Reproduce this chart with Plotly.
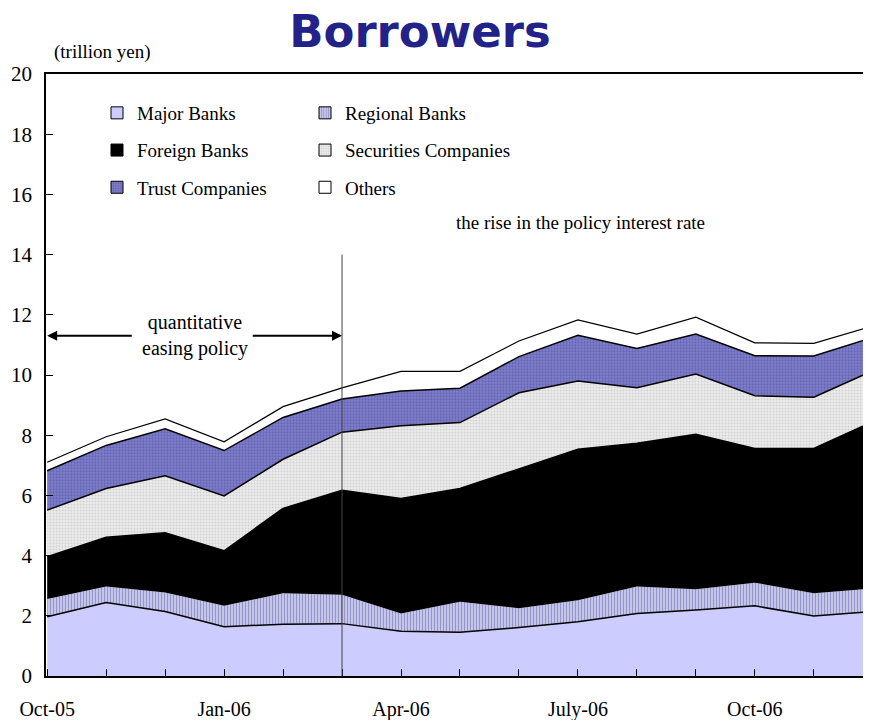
import plotly.graph_objects as go

months = ["Oct-05", "Nov-05", "Dec-05", "Jan-06", "Feb-06", "Mar-06", "Apr-06",
          "May-06", "Jun-06", "Jul-06", "Aug-06", "Sep-06", "Oct-06", "Nov-06", "Dec-06"]
tick_labels = ["Oct-05", "", "", "Jan-06", "", "", "Apr-06", "", "", "July-06", "", "", "Oct-06", "", ""]

major_banks = [1.97, 2.44, 2.14, 1.64, 1.72, 1.74, 1.49, 1.45, 1.61, 1.80, 2.08, 2.19, 2.33, 1.99, 2.14]
regional_banks = [0.59, 0.53, 0.63, 0.69, 1.03, 0.96, 0.59, 1.02, 0.64, 0.72, 0.89, 0.69, 0.77, 0.76, 0.77]
foreign_banks = [1.40, 1.64, 1.99, 1.83, 2.82, 3.47, 3.82, 3.76, 4.63, 5.01, 4.76, 5.15, 4.46, 4.81, 5.54]
securities_cos = [1.55, 1.62, 1.89, 1.82, 1.63, 1.93, 2.41, 2.19, 2.53, 2.27, 1.85, 2.00, 1.75, 1.70, 1.69]
trust_cos = [1.31, 1.43, 1.56, 1.51, 1.39, 1.10, 1.16, 1.14, 1.20, 1.52, 1.30, 1.33, 1.33, 1.37, 1.11]
others = [0.28, 0.29, 0.33, 0.29, 0.36, 0.37, 0.65, 0.56, 0.52, 0.51, 0.48, 0.56, 0.43, 0.42, 0.38]

x = list(range(len(months)))

SERIF = "Liberation Serif"

styles = [
    ("Major Banks", major_banks, "#CCCCFF", None, 1.5, "black", "legend"),
    ("Regional Banks", regional_banks, "#FFFFFF",
     dict(shape="|", fgcolor="#3A3A9C", bgcolor="#F0F0FF", size=3, solidity=0.66), 0, "black", "legend2"),
    ("Foreign Banks", foreign_banks, "#000000", None, 1.5, "black", "legend"),
    ("Securities Companies", securities_cos, "#E4E4E4",
     dict(shape=".", fgcolor="#B8B8B8", bgcolor="#EBEBEB", size=3, solidity=0.35), 1.5, "black", "legend2"),
    ("Trust Companies", trust_cos, "#7474C4",
     dict(shape=".", fgcolor="#4A4A9A", bgcolor="#8080CC", size=3, solidity=0.45), 1.5, "black", "legend"),
    ("Others", others, "#FFFFFF", None, 1.2, "black", "legend2"),
]

fig = go.Figure()
for name, vals, col, pat, lw, lc, leg in styles:
    kw = dict(fillcolor=col)
    if pat is not None:
        kw["fillpattern"] = pat
    fig.add_trace(go.Scatter(
        x=x, y=vals, name=name, mode="lines", stackgroup="one",
        line=dict(color=lc, width=lw), showlegend=False, hoverinfo="skip", **kw))

# legend swatches
for name, vals, col, pat, lw, lc, leg in styles:
    marker = dict(color=col, line=dict(color="black", width=1))
    if pat is not None:
        marker["pattern"] = pat
    fig.add_trace(go.Bar(x=[None], y=[None], name=name, marker=marker,
                         legend=leg, legendgroup=name, showlegend=True))

fig.add_shape(type="line", x0=5, x1=5, y0=0, y1=14, xref="x", yref="y",
              line=dict(color="#444444", width=1), layer="above")

# arrows
fig.add_annotation(x=0, y=11.3, ax=1.46, ay=11.3, xref="x", yref="y", axref="x", ayref="y",
                   text="", showarrow=True, arrowhead=2, arrowsize=1, arrowwidth=2, arrowcolor="black")
fig.add_annotation(x=5, y=11.3, ax=3.46, ay=11.3, xref="x", yref="y", axref="x", ayref="y",
                   text="", showarrow=True, arrowhead=2, arrowsize=1, arrowwidth=2, arrowcolor="black")
fig.add_annotation(x=2.51, y=11.3, xref="x", yref="y", text="quantitative<br>easing policy",
                   showarrow=False, font=dict(family=SERIF, size=20, color="black"), align="center")
fig.add_annotation(x=9.05, y=15.05, xref="x", yref="y", text="the rise in the policy interest rate",
                   showarrow=False, font=dict(family=SERIF, size=19, color="black"))
fig.add_annotation(xref="paper", yref="paper", x=(102 - 46) / 825, y=1 + (74 - 52) / 602,
                   xanchor="center", yanchor="middle", text="(trillion yen)", showarrow=False,
                   font=dict(family=SERIF, size=19, color="black"))

W, H = 863, 712
fig.update_layout(
    width=W, height=H,
    margin=dict(l=38, r=0, t=66, b=44, pad=0, autoexpand=False),
    paper_bgcolor="white", plot_bgcolor="white",
    title=dict(text="<b>Borrowers</b>", x=412 / W, xanchor="center", xref="container",
               y=1 - 23 / H, yanchor="middle", yref="container",
               font=dict(family="DejaVu Sans", size=45, color="#222288")),
    font=dict(family=SERIF, size=20, color="black"),
    barmode="overlay",
    xaxis=dict(range=[-0.02, 13.97], tickvals=x, ticktext=tick_labels, ticks="inside", ticklen=7,
               tickcolor="black", showline=True, linecolor="black", linewidth=1.5, mirror=True,
               showgrid=False, zeroline=False, ticklabelstandoff=14, automargin=False,
               tickfont=dict(family=SERIF, size=20)),
    yaxis=dict(range=[0, 20], dtick=2, ticks="inside", ticklen=7, tickcolor="black",
               showline=True, linecolor="black", linewidth=1.5, mirror=True, automargin=False,
               showgrid=False, zeroline=False, ticklabelstandoff=8,
               tickfont=dict(family=SERIF, size=21)),
    legend=dict(x=(97 - 46) / 825, y=1 - (94 - 74) / 602, xanchor="left", yanchor="top",
                bgcolor="rgba(0,0,0,0)", font=dict(family=SERIF, size=19),
                traceorder="grouped", tracegroupgap=9.5, itemwidth=30),
    legend2=dict(x=(305 - 46) / 825, y=1 - (94 - 74) / 602, xanchor="left", yanchor="top",
                 bgcolor="rgba(0,0,0,0)", font=dict(family=SERIF, size=19),
                 traceorder="grouped", tracegroupgap=9.5, itemwidth=30),
)

fig.write_html("out.html")
